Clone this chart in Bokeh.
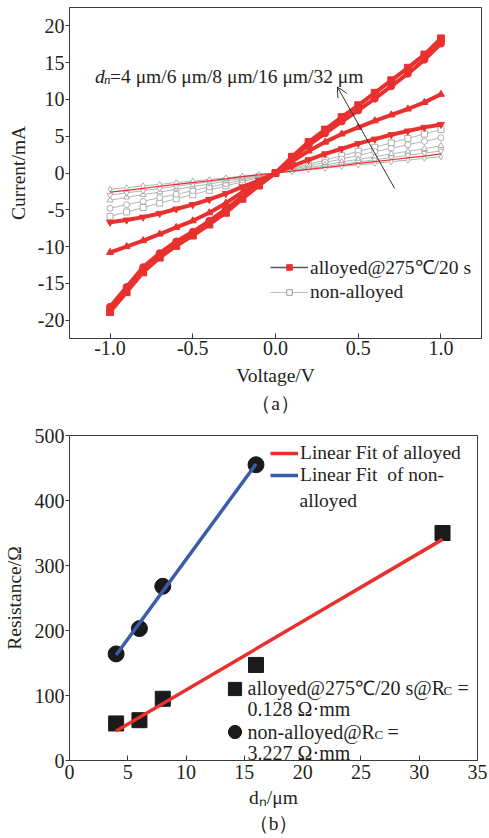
import numpy as np
from bokeh.plotting import figure
from bokeh.models import (Range1d, FixedTicker, Legend, LegendItem, Label, Arrow,
                          OpenHead, Title, ColumnDataSource)
from bokeh.layouts import column
from bokeh.embed import file_html
from bokeh.resources import INLINE

# ---------------- data: panel (a) I-V curves ----------------
VOLTAGE = [-1.0, -0.9, -0.8, -0.7, -0.6, -0.5, -0.4, -0.3, -0.2, -0.1, 0.0,
           0.1, 0.2, 0.3, 0.4, 0.5, 0.6, 0.7, 0.8, 0.9, 1.0]

I_ALLOY_4 = [-18.9, -16.2, -13.5, -11.5, -9.9, -8.5, -7.0, -5.4, -3.5, -1.7, 0.0,
             2.2, 4.2, 5.9, 7.6, 9.2, 10.9, 12.6, 14.3, 16.1, 18.3]
I_ALLOY_6 = [-18.2, -15.5, -12.8, -10.9, -9.3, -8.0, -6.5, -4.9, -3.2, -1.6, 0.0,
             2.0, 3.8, 5.4, 7.0, 8.5, 10.1, 11.8, 13.5, 15.4, 17.6]
I_ALLOY_8 = [-10.8, -10.0, -9.2, -8.3, -7.4, -6.5, -5.4, -4.1, -2.6, -1.2, 0.0,
             1.6, 3.0, 4.2, 5.3, 6.2, 7.1, 7.9, 8.7, 9.6, 10.7]
I_ALLOY_16 = [-6.7, -6.4, -6.0, -5.5, -4.9, -4.3, -3.6, -2.8, -1.9, -1.0, 0.0,
              0.9, 1.8, 2.6, 3.3, 4.0, 4.6, 5.2, 5.7, 6.2, 6.6]
I_ALLOY_32 = [-2.6, -2.35, -2.1, -1.8, -1.55, -1.3, -1.05, -0.8, -0.5, -0.25, 0.0,
              0.25, 0.5, 0.75, 1.0, 1.3, 1.55, 1.8, 2.05, 2.3, 2.6]

I_NON_4 = [-5.9, -5.3, -4.7, -4.1, -3.5, -2.95, -2.35, -1.75, -1.2, -0.6, 0.0,
           0.6, 1.2, 1.75, 2.35, 2.95, 3.5, 4.1, 4.7, 5.3, 5.9]
I_NON_6 = [-4.8, -4.3, -3.85, -3.35, -2.9, -2.4, -1.9, -1.45, -0.95, -0.5, 0.0,
           0.5, 0.95, 1.45, 1.9, 2.4, 2.9, 3.35, 3.85, 4.3, 4.8]
I_NON_8 = [-3.7, -3.3, -2.95, -2.6, -2.2, -1.85, -1.5, -1.1, -0.75, -0.35, 0.0,
           0.35, 0.75, 1.1, 1.5, 1.85, 2.2, 2.6, 2.95, 3.3, 3.7]
I_NON_16 = [-3.0, -2.7, -2.4, -2.1, -1.8, -1.5, -1.2, -0.9, -0.6, -0.3, 0.0,
            0.3, 0.6, 0.9, 1.2, 1.5, 1.8, 2.1, 2.4, 2.7, 3.0]
I_NON_32 = [-2.2, -2.0, -1.75, -1.55, -1.3, -1.1, -0.9, -0.65, -0.45, -0.2, 0.0,
            0.2, 0.45, 0.65, 0.9, 1.1, 1.3, 1.55, 1.75, 2.0, 2.2]

XTICKS_A = [-1.0, -0.5, 0.0, 0.5, 1.0]
XTICK_LABELS_A = ["-1.0", "-0.5", "0.0", "0.5", "1.0"]
YTICKS_A = [-20, -15, -10, -5, 0, 5, 10, 15, 20]
YTICK_LABELS_A = ["-20", "-15", "-10", "-5", "0", "5", "10", "15", "20"]

# ---------------- data: panel (b) resistance vs dn ----------------
DN_ALLOYED = [4, 6, 8, 16, 32]
R_ALLOYED = [57, 62, 95, 147, 350]
DN_NON = [4, 6, 8, 16]
R_NON = [164, 203, 268, 455]

XTICKS_B = [0, 5, 10, 15, 20, 25, 30, 35]
XTICK_LABELS_B = ["0", "5", "10", "15", "20", "25", "30", "35"]
YTICKS_B = [0, 100, 200, 300, 400, 500]
YTICK_LABELS_B = ["0", "100", "200", "300", "400", "500"]

# ---------------- style ----------------
FONT = "Liberation Serif"
TXT = "#231f20"
AX = "#3a3a3a"
RED = "#e8312f"
BLUE = "#3b5ca8"
GRAY_LINE = "#b4b4b4"
GRAY_MK = "#9a9a9a"
NAN = [float("nan")]  # legend proxies: one invisible point


def style_axis(ax, ticks, labels, tick_in, tick_out, lbl_standoff, title, title_standoff):
    ax.ticker = FixedTicker(ticks=ticks)
    ax.major_label_overrides = dict(zip(ticks, labels))
    ax.minor_tick_line_color = None
    ax.major_tick_in = tick_in
    ax.major_tick_out = tick_out
    ax.major_tick_line_color = AX
    ax.axis_line_color = AX
    ax.major_label_standoff = lbl_standoff
    ax.major_label_text_font = FONT
    ax.major_label_text_font_size = "20px"
    ax.major_label_text_color = TXT
    ax.axis_label = title
    ax.axis_label_standoff = title_standoff
    ax.axis_label_text_font = FONT
    ax.axis_label_text_font_size = "19.5px"
    ax.axis_label_text_font_style = "normal"
    ax.axis_label_text_color = TXT


def txt(x, y, text, size="19.5px", style="normal", xo=0, yo=0):
    return Label(x=x, y=y, x_offset=xo, y_offset=yo, text=text, text_font=FONT,
                 text_font_size=size, text_font_style=style, text_color=TXT,
                 text_baseline="middle")


def caption(text, standoff):
    return Title(text=text, align="center", text_font=FONT, standoff=standoff,
                 text_font_size="19.5px", text_font_style="normal",
                 text_color=TXT)


# ================= panel (a) =================
pa = figure(frame_width=412, frame_height=331, output_backend="svg",
            toolbar_location=None,
            x_range=Range1d(-1.245, 1.245), y_range=Range1d(-22.5, 22.5),
            min_border_left=69, min_border_right=8, min_border_top=7,
            min_border_bottom=82)
pa.grid.visible = False
pa.outline_line_color = AX
pa.background_fill_color = "white"
pa.border_fill_color = "white"
style_axis(pa.xaxis[0], XTICKS_A, XTICK_LABELS_A, 5, 0, 2, "Voltage/V", 7)
style_axis(pa.yaxis[0], YTICKS_A, YTICK_LABELS_A, 0, 4, 1, "Current/mA", 6)

src_a = ColumnDataSource(dict(v=VOLTAGE,
                              a4=I_ALLOY_4, a6=I_ALLOY_6, a8=I_ALLOY_8,
                              a16=I_ALLOY_16, a32=I_ALLOY_32,
                              n4=I_NON_4, n6=I_NON_6, n8=I_NON_8,
                              n16=I_NON_16, n32=I_NON_32))

for key, mk in [("n4", "square"), ("n6", "circle"), ("n8", "triangle"),
                ("n16", "inverted_triangle"), ("n32", "diamond")]:
    pa.line("v", key, source=src_a, line_color=GRAY_LINE, line_width=1)
    pa.scatter("v", key, source=src_a, marker=mk, size=6, line_color=GRAY_MK,
               fill_color="white", line_width=0.8)

for key, mk in [("a16", "inverted_triangle"), ("a8", "triangle"),
                ("a6", "circle"), ("a4", "square")]:
    pa.line("v", key, source=src_a, line_color=RED, line_width=4)
    pa.scatter("v", key, source=src_a, marker=mk, size=7, line_color=RED,
               fill_color=RED)
pa.line("v", "a32", source=src_a, line_color=RED, line_width=1.2)

# legend proxies (single NaN point -> nothing drawn in the plot)
lg_l1 = pa.line(x=NAN, y=NAN, line_color="#555555", line_width=1.5)
lg_m1 = pa.scatter(x=NAN, y=NAN, marker="square", fill_color=RED, line_color=RED)
lg_l2 = pa.line(x=NAN, y=NAN, line_color="#bdbdbd", line_width=1.2)
lg_m2 = pa.scatter(x=NAN, y=NAN, marker="square", fill_color="white",
                   line_color=GRAY_MK)
leg_a = Legend(items=[LegendItem(label="alloyed@275℃/20 s", renderers=[lg_l1, lg_m1]),
                      LegendItem(label="non-alloyed", renderers=[lg_l2, lg_m2])],
               location=(201, 34), glyph_width=38, glyph_height=14,
               label_height=24, label_standoff=2, spacing=0, padding=0, margin=0,
               border_line_color=None, background_fill_alpha=0,
               label_text_font=FONT, label_text_font_size="19.5px",
               label_text_color=TXT)
pa.add_layout(leg_a)

# d_n annotation + arrow
pa.add_layout(txt(-1.0907, 13.1, "d", style="italic"))
pa.add_layout(txt(-1.0907, 13.1, "n", size="13px", style="italic", xo=9, yo=-3))
pa.add_layout(txt(-1.0907, 13.1, "=4 μm/6 μm/8 μm/16 μm/32 μm", xo=15))
pa.add_layout(Arrow(end=OpenHead(size=10, line_color="#333333", line_width=1),
                    x_start=0.72, y_start=-2.1, x_end=0.374, y_end=11.7,
                    line_color="#333333", line_width=1))

pa.add_layout(caption("（a）", 4), "below")

# ================= panel (b) =================
pb = figure(frame_width=408, frame_height=325, output_backend="svg",
            toolbar_location=None,
            x_range=Range1d(0, 35), y_range=Range1d(0, 500),
            min_border_left=67, min_border_right=14, min_border_top=15,
            min_border_bottom=78)
pb.grid.visible = False
pb.outline_line_color = AX
pb.background_fill_color = "white"
pb.border_fill_color = "white"
style_axis(pb.xaxis[0], XTICKS_B, XTICK_LABELS_B, 5, 0, 4, "dₙ/μm", 5)
style_axis(pb.yaxis[0], YTICKS_B, YTICK_LABELS_B, 0, 4, 1, "Resistance/Ω", 7)

pb.scatter(DN_ALLOYED, R_ALLOYED, marker="square", size=15, color="#1a1a1a")
pb.scatter(DN_NON, R_NON, marker="circle", size=16, color="#1a1a1a")

ka, ba = np.polyfit(DN_ALLOYED, R_ALLOYED, 1)
kn, bn = np.polyfit(DN_NON, R_NON, 1)
fx_a = np.array([min(DN_ALLOYED), max(DN_ALLOYED)], dtype=float)
fx_n = np.array([min(DN_NON), max(DN_NON)], dtype=float)
fit_a = pb.line(fx_a, ka * fx_a + ba, line_color=RED, line_width=3.5)
fit_n = pb.line(fx_n, kn * fx_n + bn, line_color=BLUE, line_width=3.5)

leg_b = Legend(items=[LegendItem(label="Linear Fit of alloyed", renderers=[fit_a]),
                      LegendItem(label="Linear Fit  of non-", renderers=[fit_n])],
               location=(201, 274), glyph_width=28, glyph_height=22,
               label_height=22, label_standoff=2, spacing=0, padding=0, margin=0,
               border_line_color=None, background_fill_alpha=0,
               label_text_font=FONT, label_text_font_size="19.5px",
               label_text_color=TXT)
pb.add_layout(leg_b)
pb.add_layout(txt(19.74, 400, "alloyed"))

lg_sq = pb.scatter(x=NAN, y=NAN, marker="square", color="#1a1a1a")
lg_ci = pb.scatter(x=NAN, y=NAN, marker="circle", color="#1a1a1a")
leg_c = Legend(items=[LegendItem(label=" ", renderers=[lg_sq]),
                      LegendItem(label=" ", renderers=[lg_ci])],
               location=(149, 12), glyph_width=33, glyph_height=33,
               label_height=20, label_standoff=0, spacing=10, padding=0,
               margin=0, border_line_color=None, background_fill_alpha=0,
               label_text_font_size="4px")
pb.add_layout(leg_c)

LX = 15.28
for y, t in [(110.8, "alloyed@275℃/20 s@R"), (78.5, "0.128 Ω·mm"),
             (44.6, "non-alloyed@R"), (12.3, "3.227 Ω·mm")]:
    pb.add_layout(txt(LX, y, t, size="20px"))
for y, off_c, off_eq in [(110.8, 196, 210), (44.6, 127, 140)]:
    pb.add_layout(txt(LX, y, "C", size="13px", xo=off_c, yo=-2.5))
    pb.add_layout(txt(LX, y, "=", size="20px", xo=off_eq))

pb.add_layout(caption("（b）", 0), "below")

layout = column(pa, pb)
open("out.html", "w").write(file_html(layout, INLINE))
